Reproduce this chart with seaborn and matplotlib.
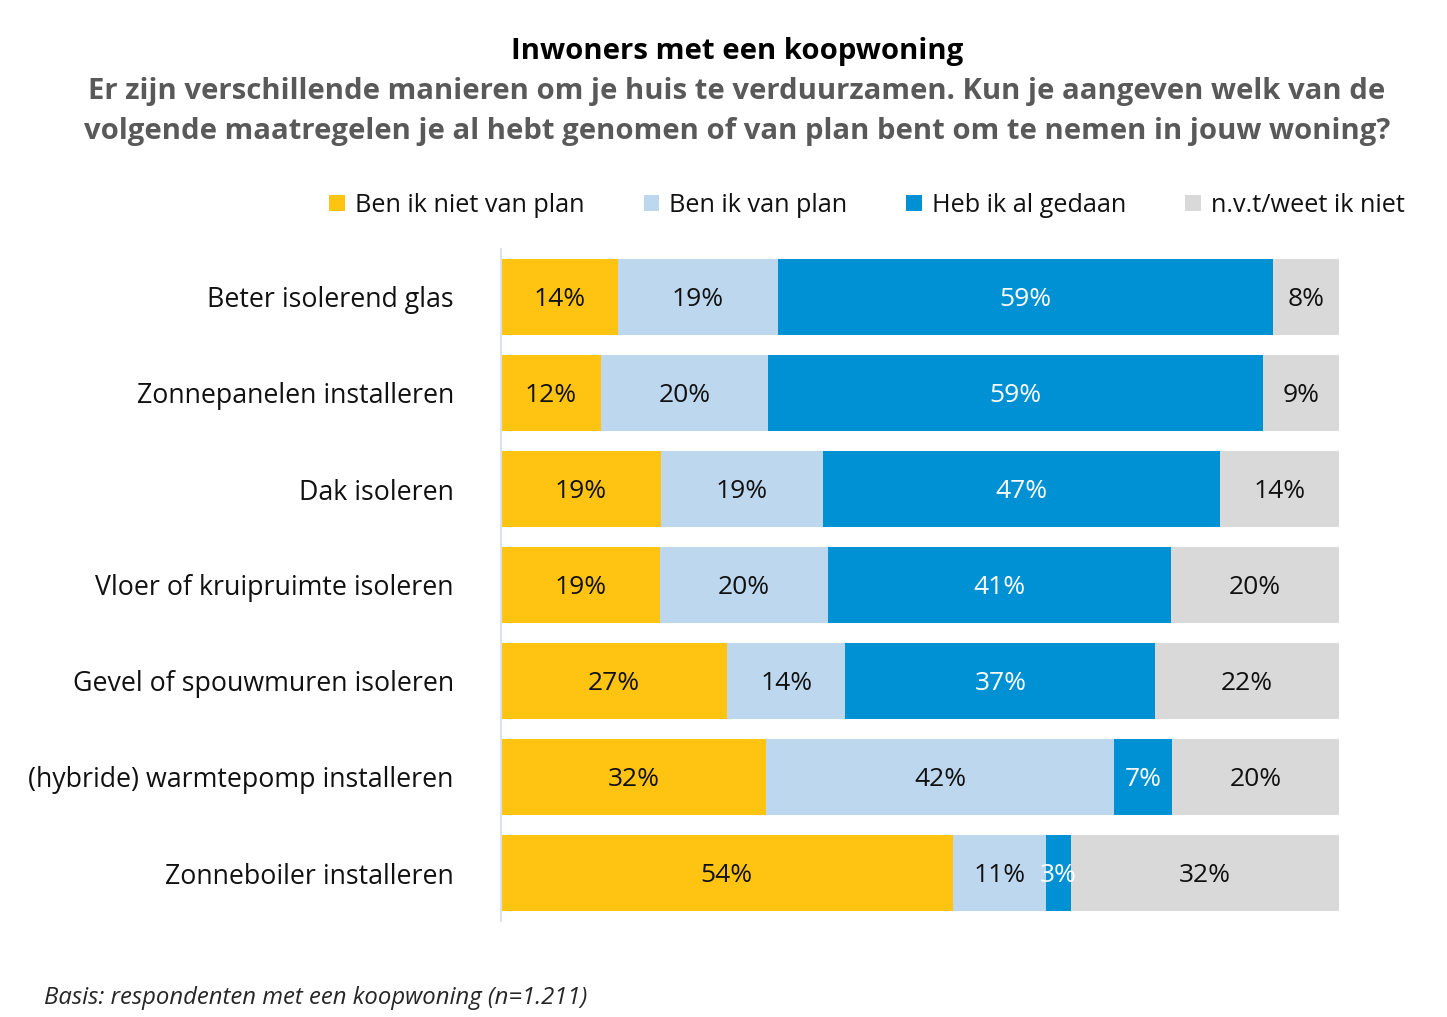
import matplotlib
matplotlib.use("Agg")
import matplotlib.pyplot as plt
import seaborn as sns
import pandas as pd
import numpy as np
from matplotlib.patches import Patch

categories = [
    "Beter isolerend glas",
    "Zonnepanelen installeren",
    "Dak isoleren",
    "Vloer of kruipruimte isoleren",
    "Gevel of spouwmuren isoleren",
    "(hybride) warmtepomp installeren",
    "Zonneboiler installeren",
]
series_names = ["Ben ik niet van plan", "Ben ik van plan", "Heb ik al gedaan", "n.v.t/weet ik niet"]
niet_van_plan = [14.0, 11.9, 19.1, 19.0, 27.0, 31.6, 53.9]
van_plan = [19.0, 20.0, 19.3, 20.0, 14.1, 41.6, 11.1]
al_gedaan = [59.1, 59.0, 47.4, 40.9, 37.0, 6.9, 3.0]
nvt = [7.9, 9.1, 14.2, 20.1, 21.9, 19.9, 32.0]
bar_labels = [
    ["14%", "19%", "59%", "8%"],
    ["12%", "20%", "59%", "9%"],
    ["19%", "19%", "47%", "14%"],
    ["19%", "20%", "41%", "20%"],
    ["27%", "14%", "37%", "22%"],
    ["32%", "42%", "7%", "20%"],
    ["54%", "11%", "3%", "32%"],
]
title = "Inwoners met een koopwoning"
subtitle = ("Er zijn verschillende manieren om je huis te verduurzamen. Kun je aangeven welk van de\n"
            "volgende maatregelen je al hebt genomen of van plan bent om te nemen in jouw woning?")
footnote = "Basis: respondenten met een koopwoning (n=1.211)"

colors = ["#FFC312", "#BDD7EE", "#0091D5", "#D9D9D9"]
label_colors = ["#111111", "#111111", "#FFFFFF", "#111111"]

sns.set_theme(style="white")
plt.rcParams["font.family"] = ["Open Sans", "DejaVu Sans"]

df = pd.DataFrame({"cat": categories, "s0": niet_van_plan, "s1": van_plan,
                   "s2": al_gedaan, "s3": nvt})
cols = ["s0", "s1", "s2", "s3"]
cum = df[cols].cumsum(axis=1)

fig = plt.figure(figsize=(14.47, 10.17), dpi=100)
ax = fig.add_axes([501 / 1447, 1 - 921 / 1017, 838 / 1447, 672 / 1017])

for k in range(3, -1, -1):
    sns.barplot(x=cum[cols[k]], y=df["cat"], orient="h", color=colors[k],
                width=0.79, saturation=1, ax=ax, linewidth=0, order=categories)

for i in range(len(categories)):
    left = 0.0
    for k in range(4):
        w = df[cols[k]].iloc[i]
        ax.text(left + w / 2, i + 0.03, bar_labels[i][k], ha="center", va="center",
                fontsize=19, color=label_colors[k])
        left += w

ax.set_xlim(0, 100)
ax.set_ylim(6.5, -0.5)
ax.set_xlabel("")
ax.set_ylabel("")
ax.set_xticks([])
ax.tick_params(axis="y", length=0, pad=34, labelsize=19.3, labelcolor="#111111")
for s in ["top", "right", "bottom"]:
    ax.spines[s].set_visible(False)
ax.spines["left"].set_color("#D9E1F2")
ax.spines["left"].set_linewidth(1.5)

handles = [Patch(facecolor=c, edgecolor="none") for c in colors]
fig.legend(handles, series_names, loc="center", ncol=4,
           bbox_to_anchor=(867 / 1447, 1 - 205 / 1017), frameon=False,
           fontsize=18.2, handlelength=0.6, handleheight=0.6, handletextpad=0.4,
           columnspacing=2.35, labelcolor="#111111")

fig.text(737 / 1447, 1 - 51 / 1017, title, ha="center", va="center",
         fontsize=21.2, fontweight="bold", color="#000000")
fig.text(737 / 1447, 1 - 111.5 / 1017, subtitle, ha="center", va="center",
         fontsize=21.1, fontweight="bold", color="#595959", linespacing=1.48)
fig.text(44 / 1447, 1 - 998 / 1017, footnote, ha="left", va="center",
         fontsize=17.2, style="italic", color="#262626")

fig.savefig("out.png", dpi=100, facecolor="white")
